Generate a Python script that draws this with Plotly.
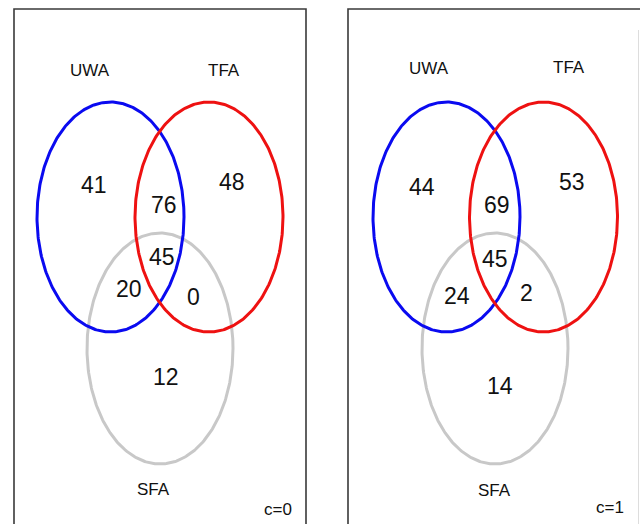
import numpy as np
import plotly.graph_objects as go

# Set names and region counts for the two conditions
set_names = ["UWA", "TFA", "SFA"]
set_colors = ["#0a0af0", "#ee1111", "#c8c8c8"]
region_names = ["UWA only", "TFA only", "UWA∩TFA", "UWA∩TFA∩SFA",
                "UWA∩SFA", "TFA∩SFA", "SFA only"]
counts_c0 = [41, 48, 76, 45, 20, 0, 12]
counts_c1 = [44, 53, 69, 45, 24, 2, 14]
panel_tags = ["c=0", "c=1"]

# Page layout in pixel units (x to the right, y downward)
W, H = 640, 524
panels = [
    dict(
        box=(14, 9, 306, 540),
        ellipses=[(110.5, 217, 73.5, 115), (209, 217, 74, 115), (160, 348.5, 73, 115.5)],
        set_pos=[(90, 70), (224, 70), (153, 489)],
        region_pos=[(94, 185), (232, 182), (164, 205), (162, 257),
                    (129, 289), (193, 297), (166, 377)],
        tag_pos=(278, 509),
        counts=counts_c0,
        tag=panel_tags[0],
    ),
    dict(
        box=(348, 9, 660, 540),
        ellipses=[(446.5, 217, 73.5, 115), (543.5, 217, 74, 115), (495, 348.5, 73, 115.5)],
        set_pos=[(429, 68), (569, 67), (494, 490)],
        region_pos=[(422, 187), (572, 182), (497, 205), (495, 259),
                    (457, 296), (526, 293), (500, 386)],
        tag_pos=(610, 507),
        counts=counts_c1,
        tag=panel_tags[1],
    ),
]

FONT = "Arial, Liberation Sans, Helvetica, sans-serif"

fig = go.Figure()
shapes = []
annotations = []
t = np.linspace(0, 2 * np.pi, 361)

for p in panels:
    x0, y0, x1, y1 = p["box"]
    shapes.append(dict(type="rect", xref="x", yref="y", x0=x0, y0=y0, x1=x1, y1=y1,
                       line=dict(color="#3a3a3a", width=1.6), layer="below"))
    # draw grey set first so the coloured outlines sit on top
    for idx in [2, 0, 1]:
        cx, cy, rx, ry = p["ellipses"][idx]
        fig.add_trace(go.Scatter(
            x=cx + rx * np.cos(t), y=cy + ry * np.sin(t),
            mode="lines", line=dict(color=set_colors[idx], width=3),
            hoverinfo="skip", showlegend=False,
        ))
    for name, (sx, sy) in zip(set_names, p["set_pos"]):
        annotations.append(dict(x=sx, y=sy, xref="x", yref="y", text=name, showarrow=False,
                                font=dict(family=FONT, size=17, color="#111")))
    for val, (rx_, ry_) in zip(p["counts"], p["region_pos"]):
        annotations.append(dict(x=rx_, y=ry_, xref="x", yref="y", text=str(val), showarrow=False,
                                font=dict(family=FONT, size=23, color="#111")))
    tx, ty = p["tag_pos"]
    annotations.append(dict(x=tx, y=ty, xref="x", yref="y", text=p["tag"], showarrow=False,
                            font=dict(family=FONT, size=17, color="#111")))

# faint clipped edge of the right-hand frame
shapes.append(dict(type="line", xref="x", yref="y", x0=638.5, y0=30, x1=638.5, y1=524,
                   line=dict(color="#dddddd", width=1), layer="below"))

fig.update_layout(
    width=W, height=H,
    margin=dict(l=0, r=0, t=0, b=0),
    paper_bgcolor="white", plot_bgcolor="white",
    xaxis=dict(range=[0, W], visible=False, fixedrange=True),
    yaxis=dict(range=[H, 0], visible=False, fixedrange=True),
    shapes=shapes,
    annotations=annotations,
    showlegend=False,
)

fig.write_html("out.html", config={"displayModeBar": False})
